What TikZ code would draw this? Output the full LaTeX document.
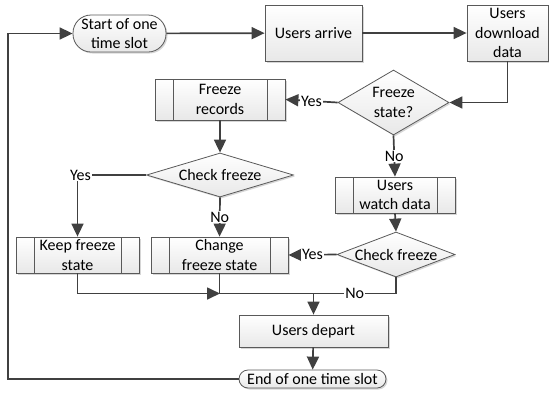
\documentclass[tikz,border=0pt]{standalone}
\usepackage{fontspec}
\setmainfont{Carlito}
\usetikzlibrary{shapes.geometric,arrows.meta,shadows,calc}
\begin{document}
\begin{tikzpicture}[x=1pt,y=-1pt,
  font=\fontsize{16}{19.5}\selectfont,
  base/.style={draw=black!65, line width=0.8pt, top color=white, bottom color=black!9,
    inner sep=0pt, align=center,
    drop shadow={shadow xshift=1.5pt,shadow yshift=-1.5pt,fill=black!40,opacity=0.4}},
  proc/.style={base, rectangle},
  sub/.style={base, rectangle, path picture={
    \draw[black!65,line width=0.8pt]
      ([xshift=18pt]path picture bounding box.north west) -- ([xshift=18pt]path picture bounding box.south west)
      ([xshift=-18pt]path picture bounding box.north east) -- ([xshift=-18pt]path picture bounding box.south east);}},
  term/.style={base, rectangle},
  dia/.style={base, diamond},
  conn/.style={draw=black!75, line width=1.7pt, -{Triangle[length=13pt,width=12pt]}},
  plain/.style={draw=black!75, line width=1.7pt},
  lbl/.style={fill=white, inner sep=1pt, text=black}
]
\useasboundingbox (0,0) rectangle (549,392);

% nodes
\node[term, rounded corners=18pt, minimum width=93pt, minimum height=37pt] (start) at (119.5,33.5) {Start of one\\time slot};
\node[proc, minimum width=97pt, minimum height=56pt] (arrive) at (313.5,33) {Users arrive};
\node[proc, minimum width=81pt, minimum height=56pt] (download) at (507.5,33) {Users\\download\\data};
\node[dia, minimum width=111pt, minimum height=65pt, label={[align=center]center:Freeze\\state?}] (fs) at (393.5,102.5) {};
\node[sub, minimum width=130pt, minimum height=41pt] (fr) at (220,99.5) {Freeze\\records};
\node[dia, minimum width=147pt, minimum height=44pt, label={center:Check freeze}] (cf1) at (220,175) {};
\node[sub, minimum width=120pt, minimum height=36pt] (wd) at (395,195) {Users\\watch data};
\node[dia, minimum width=118pt, minimum height=45pt, label={center:Check freeze}] (cf2) at (396,254.5) {};
\node[sub, minimum width=123pt, minimum height=36pt] (keep) at (77.5,255) {Keep freeze\\state};
\node[sub, minimum width=137pt, minimum height=36pt] (change) at (219.5,255) {Change\\freeze state};
\node[proc, minimum width=149pt, minimum height=32pt] (depart) at (313.5,331) {Users depart};
\node[term, rounded corners=9pt, minimum width=147pt, minimum height=18pt] (end) at (312.5,379) {End of one time slot};

\coordinate (j1) at (220,293.5);
\coordinate (j2) at (313.5,293.5);
\coordinate (lc) at (8,33.5);

% connectors
\draw[conn] (start) -- (arrive);
\draw[conn] (arrive) -- (download);
\draw[conn] (download.south) |- (fs.east);
\draw[conn] (fs.west) -- node[lbl]{Yes} (fr.east);
\draw[conn] (fs.south) -- node[lbl]{No} (wd.north);
\draw[conn] (fr.south) -- (cf1.north);
\draw[conn] (cf1.west) -| node[lbl, xshift=3pt]{Yes} (keep.north);
\draw[conn] (cf1.south) -- node[lbl]{No} (change.north);
\draw[conn] (wd.south) -- (cf2.north);
\draw[conn] (cf2.west) -- node[lbl]{Yes} (change.east);
\draw[conn] (keep.south) |- (j1);
\draw[plain] (change.south) |- (j2);
\draw[plain] (cf2.south) |- node[lbl, pos=0.75]{No} (j2);
\draw[conn] (j2) -- (depart.north);
\draw[conn] (depart) -- (end);
\draw[conn] (end.west) -| (lc) -- (start.west);
\end{tikzpicture}
\end{document}
